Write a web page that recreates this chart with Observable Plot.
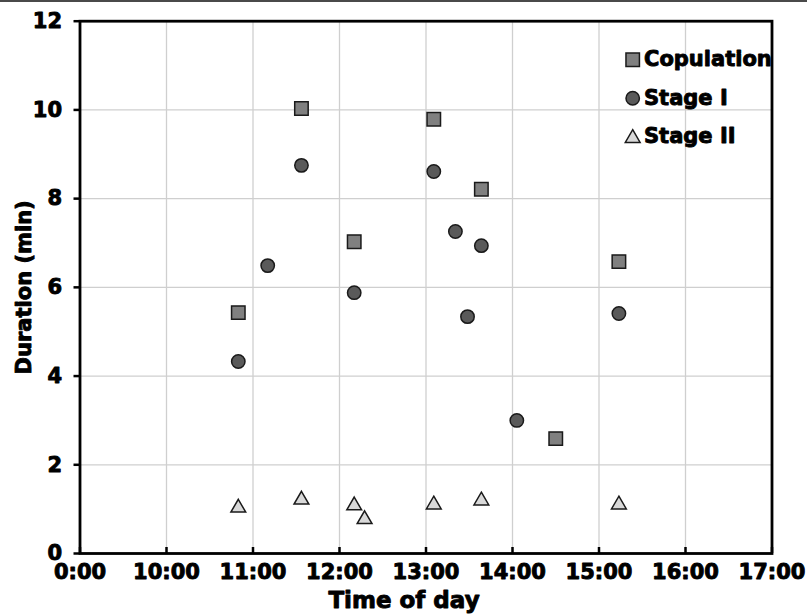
<!DOCTYPE html>
<html><head><meta charset="utf-8">
<script src="https://cdn.jsdelivr.net/npm/d3@7"></script>
<script src="https://cdn.jsdelivr.net/npm/@observablehq/plot@0.6"></script>
<style>
html,body{margin:0;padding:0;background:#fff;}
#chart{border-top:2px solid #4a4a4a;width:807px;height:613px;}
#chart svg text{stroke:#000;stroke-width:0.9px;stroke-linejoin:round;}
</style></head><body><div id="chart"></div>
<script>
const xTicks = [9, 10, 11, 12, 13, 14, 15, 16, 17];
const xTickLabels = ["0:00", "10:00", "11:00", "12:00", "13:00", "14:00", "15:00", "16:00", "17:00"];
const yTicks = [0, 2, 4, 6, 8, 10, 12];
const seriesNames = ["Copulation", "Stage I", "Stage II"];
const copulationTime = [10.83, 11.56, 12.17, 13.09, 13.64, 14.50, 15.23];
const copulationDur  = [5.43, 10.03, 7.03, 9.79, 8.21, 2.59, 6.58];
const stage1Time = [10.83, 11.17, 11.56, 12.17, 13.09, 13.34, 13.48, 13.64, 14.05, 15.23];
const stage1Dur  = [4.33, 6.49, 8.75, 5.88, 8.61, 7.26, 5.34, 6.94, 3.00, 5.41];
const stage2Time = [10.83, 11.56, 12.17, 12.29, 13.09, 13.64, 15.23];
const stage2Dur  = [1.03, 1.21, 1.08, 0.77, 1.10, 1.19, 1.10];
const xTitle = "Time of day";
const yTitle = "Duration (min)";

const seriesData = [
  {name: seriesNames[0], t: copulationTime, v: copulationDur},
  {name: seriesNames[1], t: stage1Time, v: stage1Dur},
  {name: seriesNames[2], t: stage2Time, v: stage2Dur}
];
const styles = [
  {symbol: "square", r: 7.6, fill: "#808080", dy: 38.6, tdy: 38.5},
  {symbol: "circle", r: 6.7, fill: "#5a5a5a", dy: 77, tdy: 77},
  {symbol: "triangle", r: 5.5, fill: "#d9d9d9", dy: 117, tdy: 115.5}
];

const W = 807, H = 613, mL = 79.5, mR = 35.5, mT = 18.7, mB = 62;
const innerH = H - mT - mB;

const marks = [
  Plot.gridX({ticks: xTicks, stroke: "#cfcfcf", strokeOpacity: 1, strokeWidth: 1.3}),
  Plot.gridY({ticks: yTicks, stroke: "#cfcfcf", strokeOpacity: 1, strokeWidth: 1.3}),
  Plot.axisY({ticks: yTicks, tickSize: 6, tickPadding: 12, strokeWidth: 2.5, label: null}),
  Plot.axisX({ticks: xTicks, tickFormat: d => xTickLabels[xTicks.indexOf(d)], tickSize: 0, tickPadding: 11, label: null}),
  Plot.tickX(xTicks, {x: d => d, stroke: "black", strokeWidth: 2.5, insetTop: innerH - 6}),
  Plot.frame({stroke: "black", strokeWidth: 2.8}),
  Plot.text([xTitle], {text: d => d, frameAnchor: "bottom", lineAnchor: "middle", dy: 47, dx: -22, fontSize: 23}),
  Plot.text([yTitle], {text: d => d, frameAnchor: "left", textAnchor: "middle", lineAnchor: "middle", rotate: -90, dx: -56, fontSize: 21})
];

seriesData.forEach((s, i) => {
  const st = styles[i];
  const rows = s.t.map((t, j) => ({time: t, dur: s.v[j]}));
  marks.push(Plot.dot(rows, {x: "time", y: "dur", symbol: () => st.symbol, r: st.r, fill: st.fill, fillOpacity: 1, stroke: "#1a1a1a", strokeWidth: 1.5}));
  marks.push(Plot.dot([s.name], {frameAnchor: "top-right", dx: -139.3, dy: st.dy, symbol: () => st.symbol, r: st.r, fill: st.fill, stroke: "#1a1a1a", strokeWidth: 1.5}));
  marks.push(Plot.text([s.name], {text: d => d, frameAnchor: "top-right", lineAnchor: "middle", dx: -128, dy: st.tdy, textAnchor: "start", fontSize: 21}));
});

const chart = Plot.plot({
  width: W, height: H,
  marginLeft: mL, marginRight: mR, marginTop: mT, marginBottom: mB,
  style: {fontFamily: "'DejaVu Sans', sans-serif", fontWeight: "bold", fontSize: "21px", color: "black", background: "white", overflow: "visible"},
  x: {domain: [9, 17], axis: null},
  y: {domain: [0, 12], axis: null},
  symbol: {type: "identity"},
  marks
});
document.getElementById("chart").appendChild(chart);
</script>
</body></html>
